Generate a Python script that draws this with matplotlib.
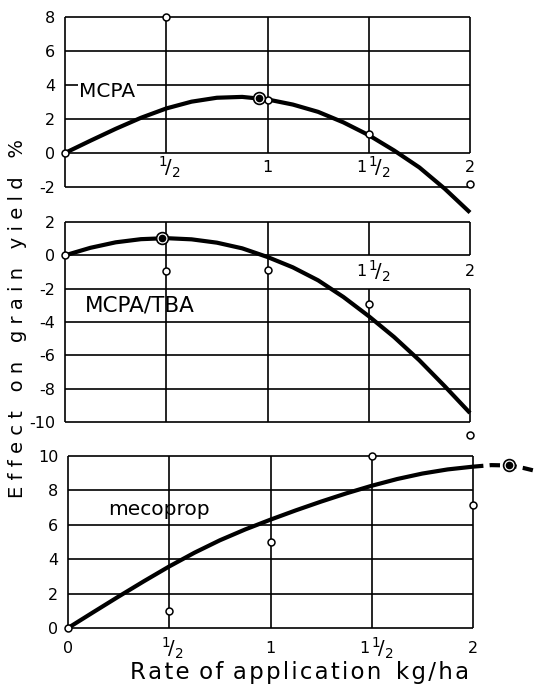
import matplotlib
matplotlib.use("Agg")
import matplotlib.pyplot as plt

plt.rcParams['font.family'] = ['DejaVu Sans']
plt.rcParams['mathtext.fontset'] = 'dejavusans'

# ---------------- data ----------------
rate_curve = [0, 0.125, 0.25, 0.375, 0.5, 0.625, 0.75, 0.875, 1.0,
              1.125, 1.25, 1.375, 1.5, 1.625, 1.75, 1.875, 2.0]
mcpa_curve = [0, 0.72, 1.42, 2.07, 2.62, 3.02, 3.25, 3.3, 3.15,
              2.85, 2.42, 1.8, 1.05, 0.15, -0.85, -2.1, -3.5]
tba_curve = [0, 0.45, 0.78, 0.97, 1.03, 0.96, 0.76, 0.42, -0.1,
             -0.72, -1.5, -2.5, -3.65, -4.9, -6.3, -7.85, -9.46]
meco_curve = [0, 0.92, 1.83, 2.72, 3.58, 4.38, 5.1, 5.73, 6.3,
              6.84, 7.35, 7.83, 8.27, 8.66, 8.98, 9.22, 9.38]
meco_ext_rate = [2.0, 2.09, 2.18, 2.25, 2.32]
meco_ext = [9.38, 9.47, 9.45, 9.3, 9.1]

mcpa_obs_rate = [0, 0.5, 1.0, 1.5, 2.0]
mcpa_obs = [0, 8.0, 3.1, 1.1, -1.8]
mcpa_opt = (0.96, 3.25)

tba_obs_rate = [0, 0.5, 1.0, 1.5, 2.0]
tba_obs = [0, -0.95, -0.9, -2.9, -10.8]
tba_opt = (0.48, 1.05)

meco_obs_rate = [0, 0.5, 1.0, 1.5, 2.0]
meco_obs = [0, 1.0, 5.0, 10.0, 7.15]
meco_opt = (2.18, 9.45)

x_ticks = [0, 0.5, 1.0, 1.5, 2.0]
x_tick_labels = ['0', '½', '1', '1½', '2']
y_ticks_mcpa = [8, 6, 4, 2, 0, -2]
y_ticks_tba = [2, 0, -2, -4, -6, -8, -10]
y_ticks_meco = [10, 8, 6, 4, 2, 0]

# ---------------- figure ----------------
W, H = 543, 686
fig = plt.figure(figsize=(W / 100, H / 100), dpi=100)

GRID_LW = 1.2
CURVE_LW = 3.0
TICK_FS = 11.5
LBL_FS = 14.5
HALF_TEX = r'${}^{1}\!/{}_{2}$'
HALF_FS = 14


def make_axes(left, right, top, bottom, ylim, yticks):
    ax = fig.add_axes([left / W, 1 - bottom / H, (right - left) / W, (bottom - top) / H])
    ax.set_xlim(0, 2)
    ax.set_ylim(*ylim)
    ax.set_facecolor('none')
    for s in ax.spines.values():
        s.set_visible(False)
    ax.set_xticks([])
    ax.set_yticks(yticks, [str(v) for v in yticks])
    ax.tick_params(axis='y', length=0, pad=7, labelsize=TICK_FS)
    return ax


def hline(ax, y, x0=0, x1=2):
    ax.plot([x0, x1], [y, y], color='black', lw=GRID_LW, clip_on=False, solid_capstyle='butt')


def vline(ax, x, y0, y1):
    ax.plot([x, x], [y0, y1], color='black', lw=GRID_LW, clip_on=False, solid_capstyle='butt')


def put(ax, s, x, y, dx, dy, fs, ha='center'):
    ax.annotate(s, (x, y), xytext=(dx, dy), textcoords='offset points',
                ha=ha, va='center', fontsize=fs, annotation_clip=False)


def xlabel_at(ax, x, y, label):
    if label == '½':
        put(ax, HALF_TEX, x, y, 2, 0, HALF_FS)
    elif label == '1½':
        put(ax, '1', x, y, -1.5, 0, TICK_FS, ha='right')
        put(ax, HALF_TEX, x, y, -0.8, 0, HALF_FS, ha='left')
    else:
        put(ax, label, x, y, 0, 0, TICK_FS)


def open_pts(ax, xs, ys):
    ax.plot(xs, ys, 'o', ms=5, mfc='white', mec='black', mew=1.1, clip_on=False, zorder=5)


def opt_pt(ax, p):
    ax.plot([p[0]], [p[1]], 'o', ms=8.5, mfc='white', mec='black', mew=1.2, clip_on=False, zorder=5)
    ax.plot([p[0]], [p[1]], 'o', ms=4.5, mfc='black', mec='black', clip_on=False, zorder=6)


# ---- Panel 1: MCPA ----
ax1 = make_axes(65, 470, 17, 187, (-2, 8), y_ticks_mcpa)
for y in y_ticks_mcpa[:-1]:
    hline(ax1, y)
hline(ax1, -2, 0, 2)
vline(ax1, 0, -2, 8)
for x in x_ticks[1:]:
    vline(ax1, x, 0, 8)
ax1.plot(rate_curve, mcpa_curve, color='black', lw=CURVE_LW, clip_on=False, zorder=4,
         solid_capstyle='butt')
open_pts(ax1, mcpa_obs_rate, mcpa_obs)
opt_pt(ax1, mcpa_opt)
for x, lab in zip(x_ticks[1:], x_tick_labels[1:]):
    xlabel_at(ax1, x, -0.85, lab)
ax1.text(0.07, 3.6, 'MCPA', fontsize=LBL_FS, ha='left', va='center',
         bbox=dict(facecolor='white', edgecolor='none', pad=1), zorder=3)

# ---- Panel 2: MCPA/TBA ----
ax2 = make_axes(65, 470, 222, 422, (-10, 2), y_ticks_tba)
for y in y_ticks_tba:
    hline(ax2, y)
for x in x_ticks[:3]:
    vline(ax2, x, -10, 2)
for x in x_ticks[3:]:
    vline(ax2, x, 0, 2)
    vline(ax2, x, -10, -2)
ax2.plot(rate_curve, tba_curve, color='black', lw=CURVE_LW, clip_on=False, zorder=4,
         solid_capstyle='butt')
open_pts(ax2, tba_obs_rate, tba_obs)
opt_pt(ax2, tba_opt)
for x, lab in zip(x_ticks[3:], x_tick_labels[3:]):
    xlabel_at(ax2, x, -0.95, lab)
ax2.text(0.1, -3.0, 'MCPA/TBA', fontsize=15.5, ha='left', va='center', zorder=3)

# ---- Panel 3: mecoprop ----
ax3 = make_axes(68, 473, 456, 628, (0, 10), y_ticks_meco)
for y in y_ticks_meco:
    hline(ax3, y)
for x in x_ticks:
    vline(ax3, x, 0, 10)
ax3.plot(rate_curve, meco_curve, color='black', lw=CURVE_LW, clip_on=False, zorder=4,
         solid_capstyle='butt')
ax3.plot(meco_ext_rate, meco_ext, color='black', lw=CURVE_LW, clip_on=False, zorder=4,
         linestyle=(0, (2.5, 1.5)))
open_pts(ax3, meco_obs_rate, meco_obs)
opt_pt(ax3, meco_opt)
for x, lab in zip(x_ticks, x_tick_labels):
    xlabel_at(ax3, x, -1.18, lab)
ax3.text(0.2, 6.9, 'mecoprop', fontsize=LBL_FS, ha='left', va='center', zorder=3)

# ---- axis titles ----
ylab = '   '.join(' '.join(w) for w in ['Effect', 'on', 'grain', 'yield', '%'])
fig.text(18 / W, 1 - 318 / H, ylab, rotation=90, ha='center', va='center', fontsize=14)
HS = '\u200a'
xlab = (' ' + HS).join(HS.join(w) for w in ['Rate', 'of', 'application']) + '  ' + HS.join('kg/ha')
fig.text(300 / W, 1 - 673 / H, xlab, ha='center', va='center', fontsize=16.5)

fig.savefig('out.png', dpi=100)
